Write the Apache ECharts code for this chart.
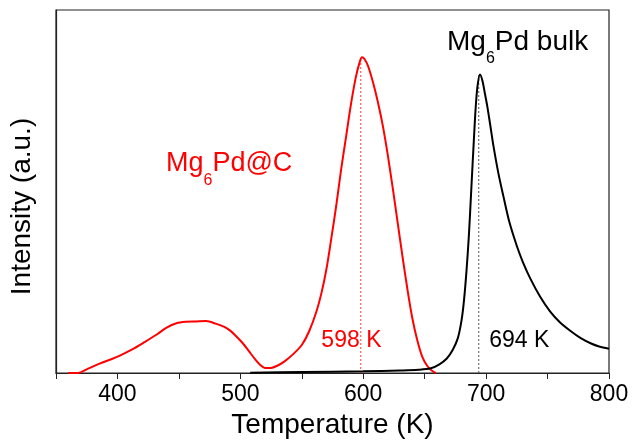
<!DOCTYPE html>
<html lang="en">
<head>
    <meta charset="UTF-8">
    <title>TPD Mg6Pd</title>
    <script src="https://cdn.jsdelivr.net/npm/echarts@6/dist/echarts.min.js"></script>
    <style>
        html, body { margin: 0; padding: 0; background: #fff; }
        #chart { width: 633px; height: 444px; }
    </style>
</head>
<body>
    <div id="chart"></div>
    <script>
        // Mg6Pd@C (red) : temperature (K) / intensity (a.u.)
        var carbonT = [360, 368, 375, 385, 395, 402, 412, 422, 432, 440, 448, 456, 464, 472, 480, 487, 492, 497, 502, 507, 512, 516, 520, 525, 530, 536, 543, 550, 556, 562, 566, 570, 574, 578, 582, 586, 590, 594, 597, 599, 601, 604, 608, 612, 616, 620, 624, 628, 632, 636, 640, 644, 648, 652, 656, 659];
        var carbonI = [0, 0, 1, 2.5, 3.8, 4.8, 6.5, 8.5, 10.6, 12.5, 13.7, 14.1, 14.2, 14.3, 13.6, 12.7, 11.6, 10, 8.2, 6, 3.8, 2.3, 1.4, 1.4, 2, 3.2, 5.2, 7.7, 11.5, 17, 22, 28.5, 37, 46, 56, 65, 74, 81.5, 85.5, 87, 86.5, 84.5, 80, 74.5, 68, 60, 51, 41.5, 32, 23, 15, 9, 4.5, 2, 0.6, 0];
        // Mg6Pd bulk (black)
        var bulkT = [508, 550, 600, 630, 645, 655, 662, 668, 673, 677, 680, 682, 684, 686, 688, 690, 691.5, 693, 695, 697, 699, 701, 703.5, 706, 710, 714, 719, 725, 730, 736, 744, 752, 760, 769, 777, 785, 792, 800];
        var bulkI = [0.1, 0.25, 0.45, 0.7, 0.9, 1.3, 2.4, 4, 6.5, 9.6, 14.5, 20, 28, 38, 51, 64, 73, 79, 82.2, 80.5, 77, 73.4, 68, 62.5, 55, 48.8, 41.5, 35, 30.5, 26, 21, 17, 14, 11.5, 9.6, 8.2, 7.3, 6.7];
        var peaks = [598, 694];
        var peakI = [87, 82.2];

        function pairs(xs, ys) {
            var out = [];
            for (var i = 0; i < xs.length; i++) out.push([xs[i], ys[i]]);
            return out;
        }

        var font = 'Liberation Sans, Arial, sans-serif';

        function formula(main1, main2, color, size) {
            return {
                text: '{a|' + main1 + '}{s|6}{a|' + main2 + '}',
                fill: color,
                rich: {
                    a: { fontSize: size, fill: color, fontFamily: font, lineHeight: 30, verticalAlign: 'top' },
                    s: { fontSize: 16, fill: color, fontFamily: font, padding: [23, 0, 0, 0], verticalAlign: 'top' }
                }
            };
        }

        // dotted drop line from the baseline up to a peak, labelled near the bottom
        function dropLine(i, color, textColor, labelAt) {
            return {
                type: 'line', showSymbol: false, silent: true, z: 1,
                data: [[peaks[i], 0], [peaks[i], peakI[i]]],
                lineStyle: { color: color, type: [2, 2], width: 1 },
                itemStyle: { color: color },
                markPoint: {
                    symbol: 'circle', symbolSize: 1, silent: true,
                    itemStyle: { color: 'rgba(0,0,0,0)' },
                    label: { show: true, position: 'inside', formatter: peaks[i] + ' K', fontSize: 23, color: textColor, fontFamily: font },
                    data: [{ coord: labelAt }]
                }
            };
        }

        var chart = echarts.init(document.getElementById('chart'));
        chart.setOption({
            backgroundColor: '#fff',
            animation: false,
            textStyle: { fontFamily: font },
            grid: { left: 56, right: 24, top: 10, bottom: 69, show: true, borderColor: '#222', borderWidth: 1.2 },
            xAxis: {
                type: 'value', min: 350, max: 800, interval: 50,
                name: 'Temperature (K)', nameLocation: 'middle', nameGap: 38,
                nameTextStyle: { fontSize: 28, color: '#000', fontFamily: font },
                axisLine: { lineStyle: { color: '#222', width: 1.2 } },
                axisTick: { show: true, length: 6, lineStyle: { color: '#222' } },
                axisLabel: {
                    fontSize: 23, color: '#000', margin: 10, fontFamily: font,
                    formatter: function (v) { return v % 100 === 0 ? v : ''; }
                },
                splitLine: { show: false }
            },
            yAxis: {
                type: 'value', min: 0, max: 100,
                name: 'Intensity (a.u.)', nameLocation: 'middle', nameGap: 20,
                nameTextStyle: { fontSize: 28, color: '#000', fontFamily: font, padding: [0, 30, 0, 0] },
                axisLine: { show: true, lineStyle: { color: '#222', width: 1.2 } },
                axisTick: { show: false },
                axisLabel: { show: false },
                splitLine: { show: false }
            },
            series: [
                dropLine(0, '#ff4040', '#ff0000', [590.4, 8.8]),
                dropLine(1, '#555555', '#000000', [727, 8.8]),
                {
                    name: 'Mg6Pd@C', type: 'line', showSymbol: false, smooth: 0.3, z: 3,
                    data: pairs(carbonT, carbonI),
                    lineStyle: { color: '#ff0000', width: 2 },
                    itemStyle: { color: '#ff0000' }
                }, {
                    name: 'Mg6Pd bulk', type: 'line', showSymbol: false, smooth: 0.3, z: 3,
                    data: pairs(bulkT, bulkI),
                    lineStyle: { color: '#000', width: 2 },
                    itemStyle: { color: '#000' }
                }
            ],
            graphic: [{
                type: 'text', left: 166, top: 150,
                style: formula('Mg', 'Pd@C', '#ff0000', 27)
            }, {
                type: 'text', left: 447, top: 28,
                style: formula('Mg', 'Pd bulk', '#000', 28)
            }]
        });
    </script>
</body>
</html>
